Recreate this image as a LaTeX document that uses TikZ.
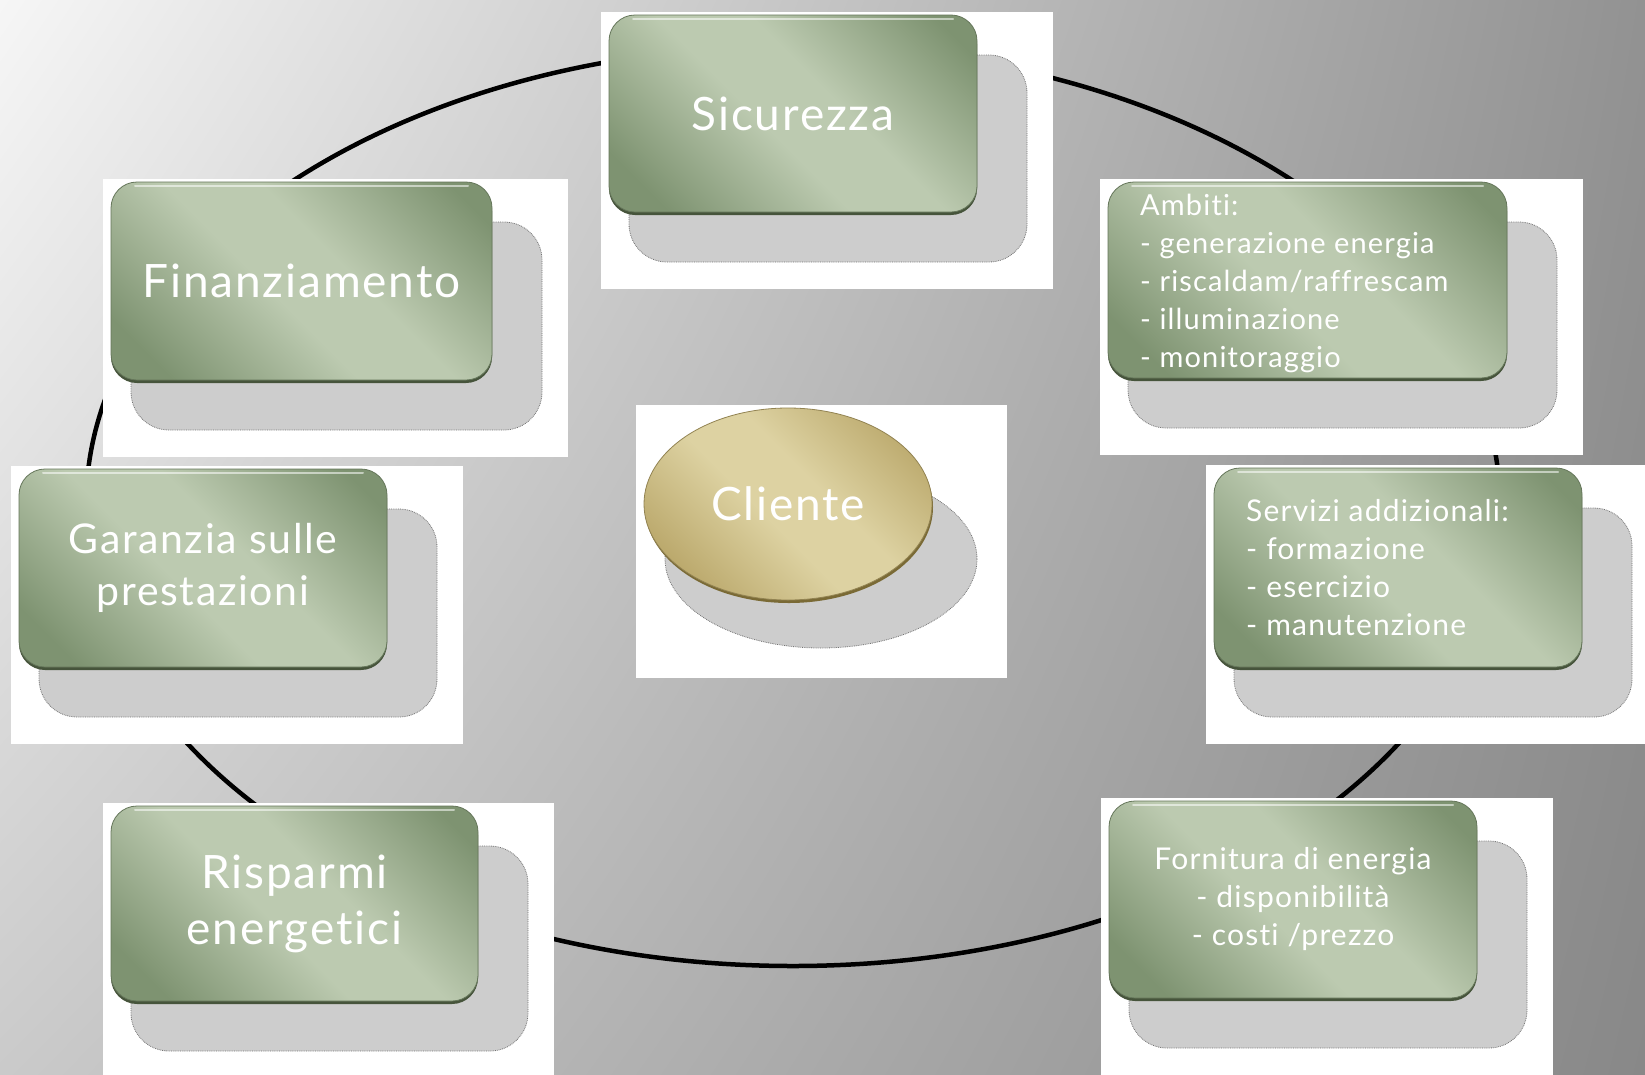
\documentclass[tikz,border=0pt]{standalone}
\usepackage{fontspec}
\setmainfont{Lato}[Ligatures=NoCommon, LetterSpace=4]
\usetikzlibrary{calc,shadings,shapes.geometric}
\definecolor{gdark}{HTML}{7E9371}
\definecolor{glight}{HTML}{BCCAB0}
\definecolor{grim}{HTML}{46543B}
\definecolor{odark}{HTML}{B7A466}
\definecolor{olight}{HTML}{DDD2A2}
\definecolor{orim}{HTML}{7A6A35}
\definecolor{shadowgray}{HTML}{CDCDCD}
\definecolor{bgul}{HTML}{F6F6F6}
\definecolor{bgur}{HTML}{929292}
\definecolor{bgll}{HTML}{CACACA}
\definecolor{bglr}{HTML}{888888}
\pgfdeclareverticalshading{gsheen}{100bp}{color(0bp)=(gdark); color(22bp)=(gdark); color(45bp)=(glight); color(57bp)=(glight); color(80bp)=(gdark); color(100bp)=(gdark)}
\pgfdeclareverticalshading{osheen}{100bp}{color(0bp)=(odark); color(22bp)=(odark); color(45bp)=(olight); color(57bp)=(olight); color(80bp)=(odark); color(100bp)=(odark)}
\tikzset{
  gbox/.style={rectangle, rounded corners=26pt, inner sep=0pt,
    shade, shading=gsheen, shading angle=-45,
    draw=gdark!80!black, line width=0.8pt, text=white, align=center},
  gtext/.style={text=white, inner sep=0pt},
  cardshadow/.style={fill=shadowgray, draw=black!55, densely dotted, line width=0.8pt, rounded corners=38pt},
  rimstyle/.style={fill=grim, rounded corners=26pt},
  ring/.style={draw=black, line width=4.5pt},
}
% #1 name, #2 cx, #3 cy, #4 w, #5 h, #6 text, #7 font
\newcommand\mycard[7]{%
  \pgfmathsetmacro\xl{#2-#4/2}\pgfmathsetmacro\xr{#2+#4/2}%
  \pgfmathsetmacro\yt{#3-#5/2}\pgfmathsetmacro\yb{#3+#5/2}%
  \fill[white] (\xl-8,\yt-3) rectangle (\xr+76,\yb+77);
  \path[cardshadow] (\xl+20,\yt+40) rectangle (\xr+50,\yb+50);
  \path[rimstyle] (\xl,\yt+3) rectangle (\xr,\yb+3);
  \node[gbox, minimum width=#4pt, minimum height=#5pt, font=#7] (#1) at (#2,#3) {#6};
  \draw[white, opacity=0.55, line width=2pt, line cap=round] (\xl+24,\yt+4) -- (\xr-24,\yt+4);
}
\begin{document}
\begin{tikzpicture}[x=1pt,y=-1pt]
\useasboundingbox (0,0) rectangle (1645,1074);
\clip (0,0) rectangle (1645,1074);
\shade[upper left=bgul, upper right=bgur, lower left=bgll, lower right=bglr]
  (0,0) rectangle (1645,1074);
\coordinate (ringc) at (793,506);
\draw[ring] (ringc) ellipse [x radius=707, y radius=460];

\mycard{sic}{793}{113.5}{368}{197}{Sicurezza}{\fontsize{46}{52}\selectfont}
\mycard{fin}{301.5}{281}{381}{198}{Finanziamento}{\fontsize{46}{52}\selectfont}
\mycard{amb}{1307.5}{280}{399}{196}{}{\fontsize{29}{38}\selectfont}
\node[gtext, anchor=west, align=left, font=\fontsize{29}{38}\selectfont] (ambt) at (1140,283)
  {Ambiti:\\- generazione energia\\- riscaldam/raffrescam\\- illuminazione\\- monitoraggio};
\mycard{gar}{203}{568}{368}{198}{Garanzia sulle\\prestazioni}{\fontsize{41}{52}\selectfont}
\mycard{ser}{1398}{567.5}{368}{199}{}{\fontsize{30}{38}\selectfont}
\node[gtext, anchor=west, align=left, font=\fontsize{30}{38}\selectfont] (sert) at (1246,567.5)
  {Servizi addizionali:\\- formazione\\- esercizio\\- manutenzione};
\mycard{ris}{294.5}{903.5}{367}{195}{Risparmi\\energetici}{\fontsize{46}{56}\selectfont}
\mycard{for}{1293}{899.5}{368}{197}{Fornitura di energia\\- disponibilità\\- costi /prezzo}{\fontsize{30}{38}\selectfont}

% Cliente
\fill[white] (636,405) rectangle (1007,678);
\path[fill=shadowgray, draw=black!55, densely dotted, line width=0.8pt] (821,559) ellipse [x radius=156, y radius=89];
\fill[orim] (789,507) ellipse [x radius=144, y radius=96];
\node[ellipse, inner sep=0pt, minimum width=288pt, minimum height=192pt,
      shade, shading=osheen, shading angle=-45,
      draw=odark!80!black, line width=0.8pt, text=white, font=\fontsize{46}{52}\selectfont] (cli) at (788,504) {Cliente};
\end{tikzpicture}
\end{document}
